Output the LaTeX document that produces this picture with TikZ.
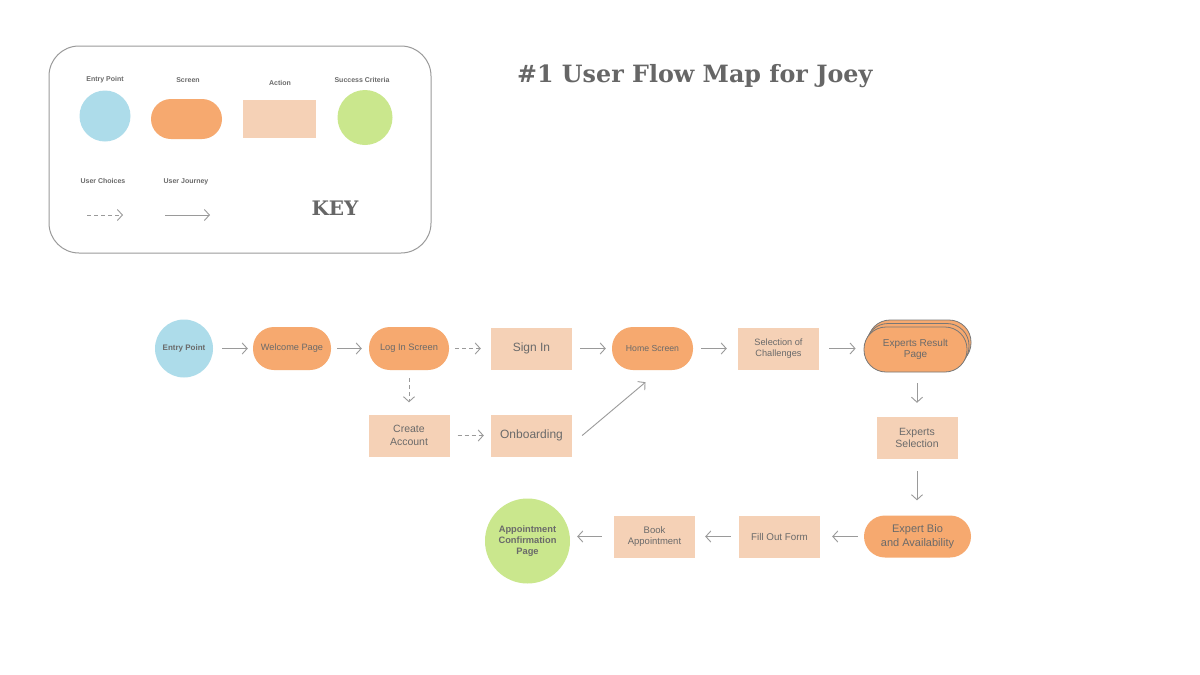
\documentclass[tikz,border=0pt]{standalone}
\usepackage{fontspec}
\setmainfont{Liberation Sans}
\newfontfamily\slab{DejaVu Serif}
\usetikzlibrary{arrows.meta,calc,shadows}
\definecolor{entryblue}{HTML}{ADDCEA}
\definecolor{screenorange}{HTML}{F6A96F}
\definecolor{actionpeach}{HTML}{F5D1B6}
\definecolor{successgreen}{HTML}{CAE78D}
\definecolor{txtgray}{HTML}{6A6A6A}
\definecolor{linegray}{HTML}{9A9A9A}
\definecolor{titlegray}{HTML}{666666}
\definecolor{stackline}{HTML}{777777}
\newcommand{\fs}[2]{\fontsize{#1}{#2}\selectfont}
\tikzset{
  entrynode/.style={circle, fill=entryblue, inner sep=0pt, text=txtgray, align=center},
  screennode/.style={rectangle, rounded corners=21pt, fill=screenorange, minimum height=43pt, inner sep=0pt, text=txtgray, align=center},
  actionnode/.style={rectangle, fill=actionpeach, minimum width=81pt, minimum height=42pt, inner sep=0pt, text=txtgray, align=center},
  successnode/.style={circle, fill=successgreen, inner sep=0pt, text=txtgray, align=center},
  keylabel/.style={text=txtgray, font=\bfseries\fs{7}{8}},
  flow/.style={draw=linegray, line width=0.9pt, -{Straight Barb[length=5pt,width=11pt]}},
  choice/.style={flow, dash pattern=on 4pt off 3pt},
}
\begin{document}
\begin{tikzpicture}[x=1pt,y=-1pt]
\useasboundingbox (0,0) rectangle (1200,675);
\fill[white] (0,0) rectangle (1200,675);

% ---------- key ----------
\node[draw=linegray, line width=1pt, rounded corners=30pt, minimum width=382pt, minimum height=207pt] (keybox) at (240,149.5) {};
\node[keylabel] (lentry) at (105,80) {Entry Point};
\node[keylabel] (lscreen) at (188,80) {Screen};
\node[keylabel] (laction) at (280,83) {Action};
\node[keylabel] (lsucc) at (362,80) {Success Criteria};
\node[entrynode, minimum size=51pt] (kentry) at (105,116) {};
\node[screennode, minimum width=71pt, minimum height=40pt, rounded corners=20pt] (kscreen) at (186.5,119) {};
\node[actionnode, minimum width=73pt, minimum height=38pt] (kaction) at (279.5,119) {};
\node[successnode, minimum size=55pt] (ksucc) at (365,117.5) {};
\node[keylabel] (lchoice) at (103,181) {User Choices};
\node[keylabel] (ljourney) at (186,182) {User Journey};
\coordinate (kc1) at (87,215);
\coordinate (kc2) at (123,215);
\coordinate (kj1) at (165,215);
\coordinate (kj2) at (210,215);
\draw[choice] (kc1) -- (kc2);
\draw[flow] (kj1) -- (kj2);
\node[text=titlegray, font=\slab\bfseries\fs{20}{24}] (keytitle) at (335,208) {KEY};

% ---------- title ----------
\node[anchor=west, text=titlegray, font=\slab\bfseries\fs{23.8}{28}, inner sep=0pt] (title) at (517,76) {\#1 User Flow Map for Joey};

% ---------- flow nodes ----------
\node[entrynode, minimum size=58pt, font=\bfseries\fs{8}{9.5}] (ep) at (184,348.5) {Entry Point};
\node[screennode, minimum width=78pt, font=\fs{9.2}{11}] (wel) at (292,348.5) {Welcome Page};
\node[screennode, minimum width=80pt, font=\fs{9.3}{11}] (log) at (409,348.5) {Log In Screen};
\node[actionnode, font=\fs{12}{14}] (sign) at (531.5,348.5) {Sign In};
\node[screennode, minimum width=81pt, font=\fs{8.7}{10.5}] (home) at (652.5,348.5) {Home Screen};
\node[actionnode, font=\fs{9.2}{10.7}] (chal) at (778.5,348.5) {Selection of\\Challenges};
\node[screennode, minimum width=103pt, minimum height=45pt, rounded corners=22pt, draw=stackline, line width=0.8pt,
      double copy shadow={shadow xshift=2pt, shadow yshift=3.5pt, fill=screenorange, draw=stackline, line width=0.8pt},
      font=\fs{10}{11.3}] (exp) at (915.5,349.5) {Experts Result\\Page};
\node[actionnode, font=\fs{10.5}{12.5}] (create) at (409,435.5) {Create\\Account};
\node[actionnode, font=\fs{12}{14}] (onb) at (531.5,435.5) {Onboarding};
\node[actionnode, font=\fs{10.5}{12.3}] (esel) at (917,438) {Experts\\Selection};
\node[screennode, minimum width=107pt, minimum height=42pt, font=\fs{11}{13.3}] (bio) at (917.5,536.5) {Expert Bio\\and Availability};
\node[actionnode, font=\fs{9.8}{11.5}] (form) at (779.5,536.5) {Fill Out Form};
\node[actionnode, font=\fs{9.5}{11}] (book) at (654.5,536.5) {Book\\Appointment};
\node[successnode, minimum size=85pt, font=\bfseries\fs{9.3}{11.3}] (conf) at (527.5,541) {Appointment\\Confirmation\\Page};

% ---------- connectors ----------
\draw[flow] ([xshift=9pt]ep.east) -- ([xshift=-5pt]wel.west);
\draw[flow] ([xshift=6pt]wel.east) -- ([xshift=-7pt]log.west);
\draw[choice] ([xshift=6pt]log.east) -- ([xshift=-10pt]sign.west);
\draw[flow] ([xshift=8pt]sign.east) -- ([xshift=-6pt]home.west);
\draw[flow] ([xshift=8pt]home.east) -- ([xshift=-11pt]chal.west);
\draw[flow] ([xshift=10pt]chal.east) -- ([xshift=-8pt]exp.west |- chal.east);
\draw[choice] ([yshift=-8pt]log.south) -- ([yshift=12pt]create.north);
\draw[choice] ([xshift=8pt]create.east) -- ([xshift=-7pt]onb.west);
\draw[flow] ([xshift=10pt]onb.east) -- ([xshift=-7pt,yshift=-12pt]home.south);
\draw[flow] ([yshift=-11pt]esel.north |- exp.south) -- ([yshift=14pt]esel.north);
\draw[flow] ([yshift=-12pt]esel.south) -- ([yshift=15pt]esel.south |- bio.north);
\draw[flow] ([xshift=-6pt]bio.west) -- ([xshift=12pt]form.east);
\draw[flow] ([xshift=-8pt]form.west) -- ([xshift=10pt]book.east);
\draw[flow] ([xshift=-12pt]book.west) -- ([xshift=7pt]conf.east |- book.west);
\end{tikzpicture}
\end{document}
